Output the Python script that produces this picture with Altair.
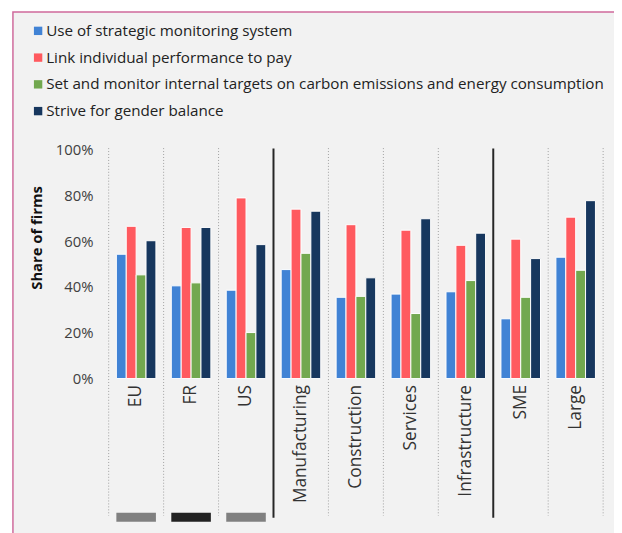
import altair as alt
import pandas as pd

categories = ["EU", "FR", "US", "Manufacturing", "Construction", "Services",
              "Infrastructure", "SME", "Large"]
series = ["Use of strategic monitoring system",
          "Link individual performance to pay",
          "Set and monitor internal targets on carbon emissions and energy consumption",
          "Strive for gender balance"]
colors = ["#4183d5", "#ff5a5f", "#72a84f", "#17375e"]

monitoring = [54.3, 40.5, 38.6, 47.6, 35.5, 36.9, 37.9, 26.1, 53.0]
pay = [66.5, 66.0, 78.9, 74.0, 67.2, 64.8, 58.2, 60.9, 70.5]
carbon = [45.3, 41.8, 20.1, 54.7, 35.9, 28.4, 42.8, 35.5, 47.3]
gender = [60.2, 66.0, 58.5, 73.1, 44.0, 69.8, 63.5, 52.4, 77.7]

y_ticks = [0, 20, 40, 60, 80, 100]

sep_pos = [0, 1, 2, 3, 4, 5, 6, 7, 8, 9]
sep_style = ["dotted", "dotted", "dotted", "solid", "dotted", "dotted",
             "dotted", "solid", "dotted", "dotted"]

tag_cats = ["EU", "FR", "US"]
tag_colors = ["#808080", "#222222", "#808080"]

rows = []
for s, vals in zip(series, [monitoring, pay, carbon, gender]):
    for c, v in zip(categories, vals):
        rows.append({"category": c, "series": s, "value": v})
df = pd.DataFrame(rows)
sep_df = pd.DataFrame({"pos": sep_pos, "style": sep_style})
tag_df = pd.DataFrame({"category": tag_cats, "color": tag_colors})

W, H = 501, 232
FONT = "Open Sans"

xscale = alt.Scale(domain=categories, paddingInner=0.28, paddingOuter=0.14)

bg = alt.Chart(pd.DataFrame({"k": [0]})).mark_rect(
    fill="#f2f2f2", stroke="#cf6a9c", strokeWidth=1.5
).encode(x=alt.value(-97), x2=alt.value(540), y=alt.value(-139.5), y2=alt.value(420))

sep_x = alt.X("pos:Q", scale=alt.Scale(domain=[0, 9], nice=False, zero=False), axis=None)

dotted = alt.Chart(sep_df).transform_filter("datum.style == 'dotted'").mark_rule(
    color="#a0a0a0", strokeDash=[1, 2], strokeWidth=1
).encode(x=sep_x, y=alt.value(-1.5), y2=alt.value(371))

solid = alt.Chart(sep_df).transform_filter("datum.style == 'solid'").mark_rule(
    color="#262626", strokeWidth=2
).encode(x=sep_x, y=alt.value(-1), y2=alt.value(373))

bars = alt.Chart(df).mark_bar(stroke="white", strokeWidth=1).encode(
    x=alt.X("category:N", scale=xscale, sort=categories,
            axis=alt.Axis(title=None, labelAngle=-90, labelFontSize=17.5, labelColor="#333333",
                          labelPadding=6, ticks=False, domain=False, labelFont=FONT, grid=False,
                          zindex=2)),
    xOffset=alt.XOffset("series:N", scale=alt.Scale(domain=series, paddingInner=0, paddingOuter=0)),
    y=alt.Y("value:Q", scale=alt.Scale(domain=[0, 100]),
            axis=alt.Axis(values=y_ticks, labelExpr="datum.value + '%'", title="Share of firms",
                          labelFontSize=15, labelColor="#404040", labelFont=FONT, labelPadding=16,
                          ticks=False, domain=False, grid=False, zindex=2,
                          titleFont=FONT, titleFontSize=15, titleFontWeight="bold", titleColor="#111111",
                          titleX=-65, titleY=89, titleAngle=-90, titleAlign="center",
                          titleBaseline="bottom")),
    color=alt.Color("series:N", scale=alt.Scale(domain=series, range=colors),
                    legend=alt.Legend(title=None, orient="none", legendX=-79.2, legendY=-128,
                                      symbolType="square", symbolSize=72, symbolStrokeWidth=0,
                                      labelFontSize=15.4, labelFont=FONT, labelColor="#222222",
                                      rowPadding=10.1, padding=0, labelLimit=800, offset=0,
                                      labelOffset=0.5, direction="vertical")),
)

tags = alt.Chart(tag_df).mark_bar().encode(
    x=alt.X("category:N", scale=xscale, axis=None),
    y=alt.value(368), y2=alt.value(377),
    color=alt.Color("color:N", scale=None, legend=None),
)

chart = alt.layer(bg, dotted, solid, bars, tags).resolve_scale(
    x="independent", color="independent"
).properties(
    width=W, height=H,
    padding={"left": 102, "top": 140, "right": 11, "bottom": 153},
    autosize=alt.AutoSizeParams(type="none"),
    background="white",
).configure_view(stroke=None)

chart.save("out.html", embed_options={"renderer": "svg", "actions": False})
